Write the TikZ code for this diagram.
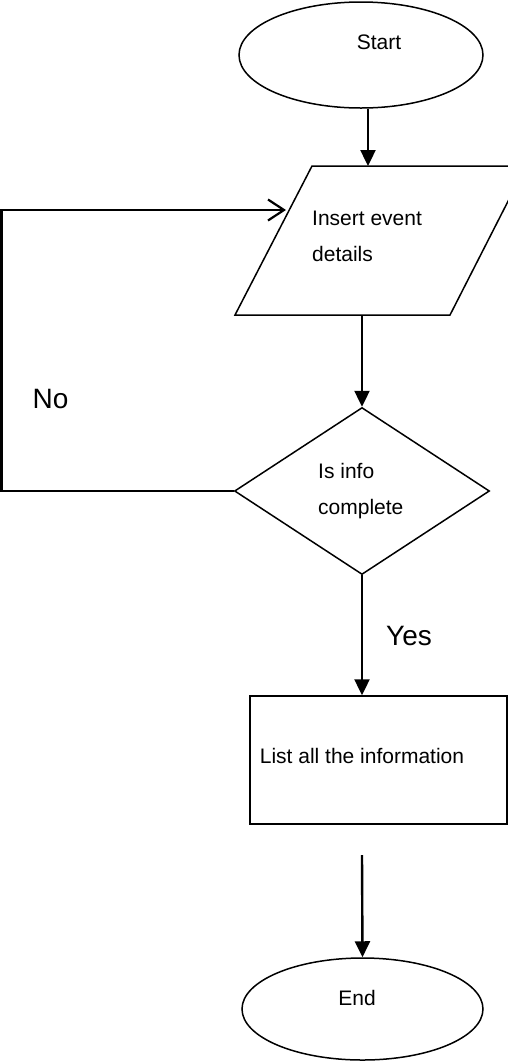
\documentclass[tikz,border=0pt]{standalone}
\usepackage{fontspec}
\setmainfont{Liberation Sans}
\usetikzlibrary{shapes.geometric,arrows.meta}
\begin{document}
\begin{tikzpicture}[x=1pt,y=-1pt,
  shapeline/.style={draw=black,line width=1.5pt,fill=none,inner sep=0pt},
  term/.style={shapeline,ellipse},
  conn/.style={line width=2.4pt,-{Triangle[length=16pt,width=15pt]}},
  back/.style={line width=2.2pt,-{Straight Barb[length=16pt,width=21pt,line width=2.2pt]}},
  txt/.style={font=\fontsize{21}{36}\selectfont,inner sep=0pt},
  big/.style={font=\fontsize{28}{32}\selectfont,inner sep=0pt}]
\useasboundingbox (0,0) rectangle (508,1061);
\clip (0,0) rectangle (508,1061);
% Start
\node[term,minimum width=244pt,minimum height=106pt] (start) at (361,55) {};
\node[txt] (starttxt) at (379,42) {Start};
% Parallelogram (input)
\coordinate (pA) at (235,315);
\coordinate (pB) at (450,315);
\coordinate (pC) at (526,166);
\coordinate (pD) at (312,166);
\draw[shapeline] (pA) -- (pB) -- (pC) -- (pD) -- cycle;
\node[txt,align=left,anchor=north west] (intxt) at (312,210.5) {Insert event\\details};
\coordinate (pin) at (368,166);
\coordinate (pout) at (362,315);
% Decision
\node[shapeline,diamond,minimum width=255pt,minimum height=167pt] (dec) at (362,491) {};
\node[txt,align=left,anchor=north west] (dectxt) at (318,463.5) {Is info\\complete};
% Process
\node[shapeline,rectangle,minimum width=257pt,minimum height=128pt] (list) at (378.5,760) {};
\node[txt] (listtxt) at (362,755.5) {List all the information};
% End
\node[term,minimum width=241pt,minimum height=102pt] (end) at (362.5,1009) {};
\node[txt] (endtxt) at (357,998) {End};
% Labels
\node[big] (nolbl) at (50.5,399) {No};
\node[big] (yeslbl) at (409,636) {Yes};
% Connectors
\draw[conn] (start.south -| pin) -- (pin);
\draw[conn] (pout) -- (dec.north);
\draw[conn] (dec.south) -- (list.north -| dec.south);
\coordinate (gap) at (362,855);
\draw[conn] (gap) -- (end.north);
\coordinate (fbx) at (1.5,0);
\coordinate (fbin) at (286,210);
\draw[back] (dec.west) -- (dec.west -| fbx) |- (fbin);
\end{tikzpicture}
\end{document}
